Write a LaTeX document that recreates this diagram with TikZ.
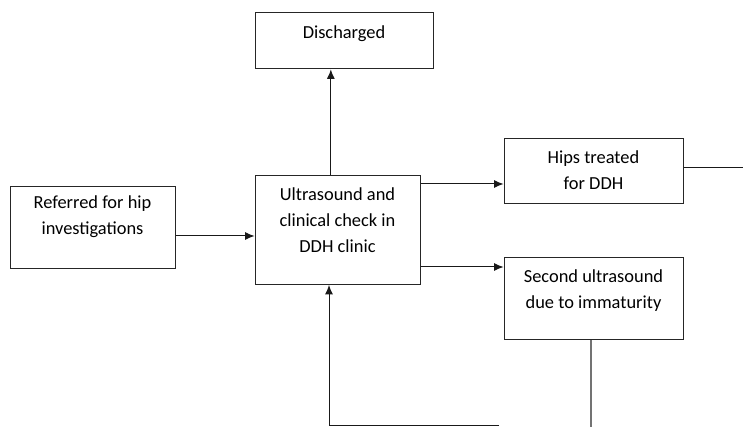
\documentclass[tikz,border=0pt]{standalone}
\usepackage{fontspec}
\setmainfont{Carlito}
\usepackage{tikz}
\usetikzlibrary{positioning,arrows.meta}

\tikzset{
  box/.style={draw=black!85, line width=0.75pt, inner sep=0pt},
  txt/.style={align=center, inner sep=0pt, anchor=north,
    font=\fontsize{13.8}{19.5}\selectfont},
  flow/.style={draw=black!90, line width=0.75pt},
}

\begin{document}
\begin{tikzpicture}[x=0.75pt, y=-0.75pt, >={Latex[length=7pt,width=6pt]}]
  \useasboundingbox (0,0) rectangle (743,427);
  % boxes
  \node[box, minimum width=133.5pt, minimum height=42pt]    (dis)  at (344,41)    {};
  \node[box, minimum width=123.75pt, minimum height=61.5pt] (ref)  at (92.5,228)  {};
  \node[box, minimum width=123.75pt, minimum height=81.75pt](us)   at (337.5,230) {};
  \node[box, minimum width=134.25pt, minimum height=48.75pt](hips) at (593.5,171.5){};
  \node[box, minimum width=134.25pt, minimum height=61.5pt] (sec)  at (593.5,299) {};
  % texts
  \node[txt, below=9.75pt of dis.north, anchor=north]  (distxt)  {Discharged};
  \node[txt, below=6.75pt of ref.north, anchor=north]  (reftxt)  {Referred for hip\\investigations};
  \node[txt, below=9pt of us.north, anchor=north]      (ustxt)   {Ultrasound and\\clinical check in\\DDH clinic};
  \node[txt, below=9pt of hips.north, anchor=north]    (hipstxt) {Hips treated\\for DDH};
  \node[txt, below=9pt of sec.north, anchor=north]     (sectxt)  {Second ultrasound\\due to immaturity};
  % free ends
  \coordinate (hout) at (743,168);
  \coordinate (sout) at (591,427);
  \coordinate (lb)   at (329,426);
  \coordinate (rb)   at (499,426);
  % connectors
  \draw[flow, ->] ([yshift=-6pt]ref.east) -- ([yshift=-6pt]ref.east -| us.west);
  \draw[flow, ->] ([xshift=-5pt]us.north) -- ([xshift=-5pt]us.north |- dis.south);
  \draw[flow, ->] ([yshift=34.5pt]us.east) -- ([yshift=34.5pt]us.east -| hips.west);
  \draw[flow, ->] ([yshift=-27.75pt]us.east) -- ([yshift=-27.75pt]us.east -| sec.west);
  \draw[flow] (hips.east |- hout) -- (hout);
  \draw[draw=black!55, line width=1pt] (sec.south -| sout) -- (sout);
  \draw[flow, ->] (rb) -- (lb) -- (lb |- us.south);
\end{tikzpicture}
\end{document}
